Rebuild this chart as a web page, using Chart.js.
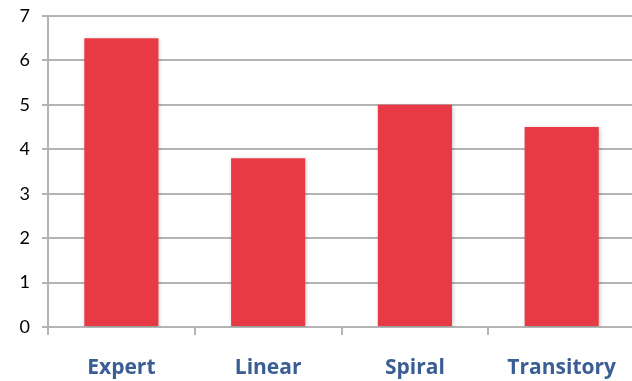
<!DOCTYPE html>
<html>
<head>
<meta charset="utf-8">
<script src="https://cdn.jsdelivr.net/npm/chart.js@4/dist/chart.umd.min.js"></script>
<style>
  html, body { margin: 0; padding: 0; background: #fff; overflow: hidden; }
  #wrap { width: 636px; height: 381px; position: relative; }
</style>
</head>
<body>
<div id="wrap"><canvas id="c"></canvas></div>
<script>
const categories = ['Expert', 'Linear', 'Spiral', 'Transitory'];
const values = [6.5, 3.8, 5.0, 4.5];
const yTicks = [0, 1, 2, 3, 4, 5, 6, 7];

const gridGray = '#b4b4b4';

// soft drop shadow behind the bars
const barShadow = {
  id: 'barShadow',
  beforeDatasetsDraw(chart) {
    const ctx = chart.ctx;
    ctx.save();
    ctx.shadowColor = 'rgba(0,0,0,0.22)';
    ctx.shadowBlur = 4;
    ctx.shadowOffsetX = 1;
    ctx.shadowOffsetY = 1;
  },
  afterDatasetsDraw(chart) {
    chart.ctx.restore();
  }
};

new Chart(document.getElementById('c'), {
  type: 'bar',
  data: {
    labels: categories,
    datasets: [{
      data: values,
      backgroundColor: '#e83a45',
      borderWidth: 0,
      categoryPercentage: 1.0,
      barPercentage: 0.505
    }]
  },
  plugins: [barShadow],
  options: {
    responsive: true,
    maintainAspectRatio: false,
    animation: false,
    layout: { padding: { top: 16, right: 0, left: 0, bottom: 0 } },
    plugins: { legend: { display: false }, tooltip: { enabled: false }, title: { display: false } },
    scales: {
      x: {
        offset: true,
        grid: {
          display: true,
          offset: true,
          drawOnChartArea: false,
          drawTicks: true,
          tickLength: 8,
          color: gridGray,
          lineWidth: 2
        },
        border: { display: true, color: gridGray, width: 2 },
        ticks: {
          color: '#3a5e93',
          font: { family: 'Open Sans', size: 21, weight: 'bold' },
          padding: 20,
          maxRotation: 0,
          autoSkip: false
        },
        afterFit(scale) { scale.height = 54; }
      },
      y: {
        min: 0,
        max: 7,
        afterBuildTicks(scale) { scale.ticks = yTicks.map(v => ({ value: v })); },
        grid: {
          color: gridGray,
          lineWidth: 2,
          drawTicks: true,
          tickLength: 6
        },
        border: { display: true, color: gridGray, width: 2 },
        ticks: {
          color: '#000',
          font: { family: 'Lato', size: 18 },
          padding: 12
        },
        afterFit(scale) {
          scale.width = 48;
          scale.paddingTop = 0;
          scale.paddingBottom = 0;
        }
      }
    }
  }
});
</script>
</body>
</html>
